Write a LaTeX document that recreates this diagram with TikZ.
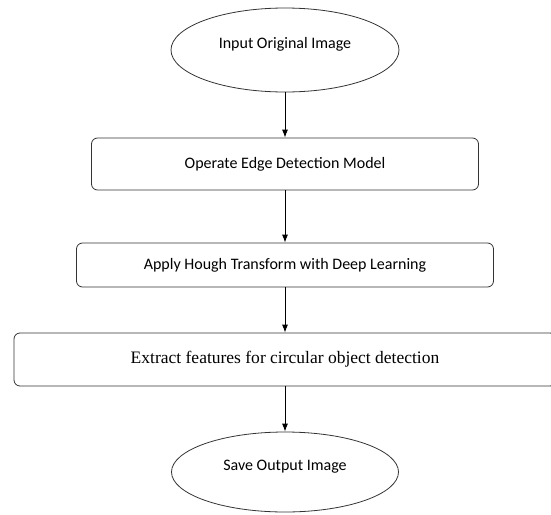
\documentclass[tikz,border=0pt]{standalone}
\usepackage{fontspec}
\setmainfont{Carlito}
\newfontfamily\timesfont{Liberation Serif}
\usepackage{tikz}
\usetikzlibrary{arrows.meta,shapes.geometric,positioning}

\tikzset{
  ovalbox/.style={draw=black!80, ellipse, line width=0.8pt, text height=11pt, text depth=15pt, font=\fontsize{16}{19}\selectfont},
  stepbox/.style={draw=black!80, rectangle, rounded corners=6pt, line width=0.8pt, font=\fontsize{16}{19}\selectfont},
  flow/.style={-{Latex[length=8pt,width=6pt]}, line width=0.8pt}
}

\begin{document}
\begin{tikzpicture}[x=1pt,y=-1pt]
\useasboundingbox (0,0) rectangle (551,514);
%start and end
\node[ovalbox, minimum width=228pt, minimum height=84pt] (in) at (285,50) {Input Original Image};
\node[ovalbox, minimum width=227pt, minimum height=80pt] (out) at (285,472) {Save Output Image};
%processing steps
\node[stepbox, minimum width=387pt, minimum height=52pt] (edge) at (285,164) {Operate Edge Detection Model};
\node[stepbox, minimum width=417pt, minimum height=44pt] (hough) at (285,265) {Apply Hough Transform with Deep Learning};
\node[stepbox, minimum width=542pt, minimum height=53pt, font=\timesfont\fontsize{17.5}{21}\selectfont] (feat) at (285,359.5) {Extract features for circular object detection};
%arrows
\draw[flow] (in) -- (edge);
\draw[flow] (edge) -- (hough);
\draw[flow] (hough) -- (feat);
\draw[flow] (feat) -- (out);
\end{tikzpicture}
\end{document}
